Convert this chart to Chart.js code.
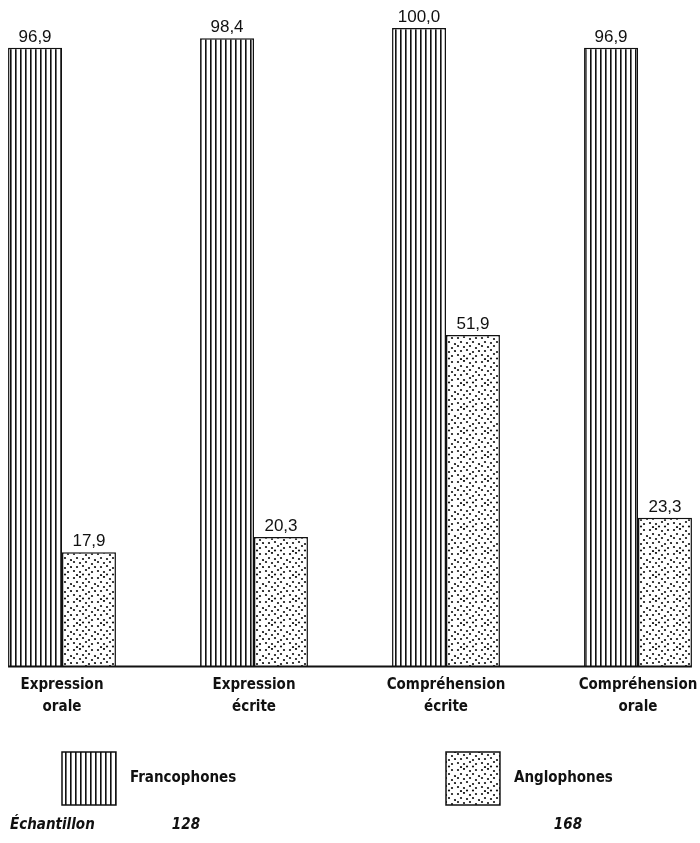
<!DOCTYPE html>
<html>
<head>
<meta charset="utf-8">
<script src="https://cdn.jsdelivr.net/npm/chart.js@4"></script>
<style>
  html, body { margin: 0; padding: 0; background: #fff; }
  #wrap { width: 700px; height: 843px; position: relative; }
</style>
</head>
<body>
<div id="wrap"><canvas id="c" width="700" height="843"></canvas></div>
<script>
const categories = [["Expression", "orale"], ["Expression", "écrite"], ["Compréhension", "écrite"], ["Compréhension", "orale"]];
const seriesNames = ["Francophones", "Anglophones"];
const francophones = [96.9, 98.4, 100.0, 96.9];
const anglophones = [17.9, 20.3, 51.9, 23.3];
const sampleLabel = "Échantillon";
const sampleSizes = ["128", "168"];

function stripePattern() {
  const c = document.createElement('canvas');
  c.width = 5; c.height = 8;
  const g = c.getContext('2d');
  g.fillStyle = '#fff'; g.fillRect(0, 0, 5, 8);
  g.fillStyle = '#111'; g.fillRect(0, 0, 1.6, 8);
  return g.createPattern(c, 'repeat');
}
function dotPattern() {
  const c = document.createElement('canvas');
  c.width = 24; c.height = 24;
  const g = c.getContext('2d');
  g.fillStyle = '#fff'; g.fillRect(0, 0, 24, 24);
  g.fillStyle = '#111';
  const pts = [[2,2],[8,1],[14,3],[20,2],[5,6],[11,7],[17,6],[23,8],[2,10],[8,11],[14,10],[20,12],
               [5,15],[11,14],[17,16],[23,15],[2,19],[8,20],[14,18],[20,20],[5,23],[11,22.5],[17,22.5]];
  pts.forEach(p => { g.beginPath(); g.arc(p[0], p[1], 1.1, 0, Math.PI * 2); g.fill(); });
  return g.createPattern(c, 'repeat');
}
const stripes = stripePattern();
const dots = dotPattern();
const fills = [stripes, dots];

const labelFont = "'Liberation Sans Narrow', 'DejaVu Sans Condensed', sans-serif";
const valueFont = "'Liberation Sans', Arial, sans-serif";

const extras = {
  id: 'extras',
  afterDatasetsDraw(chart) {
    const ctx = chart.ctx;
    const y0 = chart.scales.y.getPixelForValue(0);
    const m0 = chart.getDatasetMeta(0), m1 = chart.getDatasetMeta(1);
    const left = m0.data[0].x - m0.data[0].width / 2;
    const lastBar = m1.data[m1.data.length - 1];
    const right = lastBar.x + lastBar.width / 2;
    ctx.save();
    ctx.strokeStyle = '#111'; ctx.lineWidth = 2;
    ctx.beginPath(); ctx.moveTo(left, y0); ctx.lineTo(right, y0); ctx.stroke();
    ctx.fillStyle = '#111';
    ctx.font = '17px ' + valueFont;
    ctx.textAlign = 'center'; ctx.textBaseline = 'alphabetic';
    [m0, m1].forEach((m, di) => {
      m.data.forEach((bar, i) => {
        const v = chart.data.datasets[di].data[i];
        ctx.fillText(v.toFixed(1).replace('.', ','), bar.x, bar.y - 6);
      });
    });
    const bw = m1.data[0].width;
    const boxes = [{ x: m1.data[0].x - bw / 2, fill: fills[0] }, { x: m1.data[2].x - bw / 2, fill: fills[1] }];
    const by = 752, bh = 53;
    boxes.forEach((b, i) => {
      ctx.fillStyle = b.fill;
      ctx.fillRect(b.x, by, bw, bh);
      ctx.strokeStyle = '#111'; ctx.lineWidth = 1.5;
      ctx.strokeRect(b.x, by, bw, bh);
      ctx.fillStyle = '#111';
      ctx.font = 'bold 15px ' + labelFont;
      ctx.textAlign = 'left'; ctx.textBaseline = 'middle';
      ctx.fillText(chart.data.datasets[i].label, b.x + bw + 14, by + bh / 2);
    });
    ctx.font = 'italic bold 15px ' + labelFont;
    ctx.textAlign = 'left'; ctx.textBaseline = 'alphabetic';
    ctx.fillText(sampleLabel, 10, 829);
    ctx.textAlign = 'center';
    ctx.fillText(sampleSizes[0], boxes[0].x + bw + 70, 829);
    ctx.fillText(sampleSizes[1], boxes[1].x + bw + 68, 829);
    ctx.restore();
  }
};

new Chart(document.getElementById('c'), {
  type: 'bar',
  data: {
    labels: categories,
    datasets: [
      { label: seriesNames[0], data: francophones, backgroundColor: stripes, borderColor: '#111', borderWidth: 1.5, clip: false },
      { label: seriesNames[1], data: anglophones, backgroundColor: dots, borderColor: '#111', borderWidth: 1.5, clip: false }
    ]
  },
  options: {
    responsive: false,
    animation: false,
    devicePixelRatio: 1,
    layout: { padding: { left: 62, right: 62, top: 28, bottom: 125 } },
    datasets: { bar: { categoryPercentage: 0.562, barPercentage: 1.0 } },
    plugins: { legend: { display: false }, tooltip: { enabled: false } },
    scales: {
      x: {
        offset: false,
        grid: { display: false },
        border: { display: false },
        ticks: { color: '#111', font: { family: labelFont, size: 15, weight: 'bold', lineHeight: 1.45 }, maxRotation: 0, autoSkip: false, padding: 0 }
      },
      y: { display: false, min: 0, max: 100 }
    }
  },
  plugins: [extras]
});
</script>
</body>
</html>
